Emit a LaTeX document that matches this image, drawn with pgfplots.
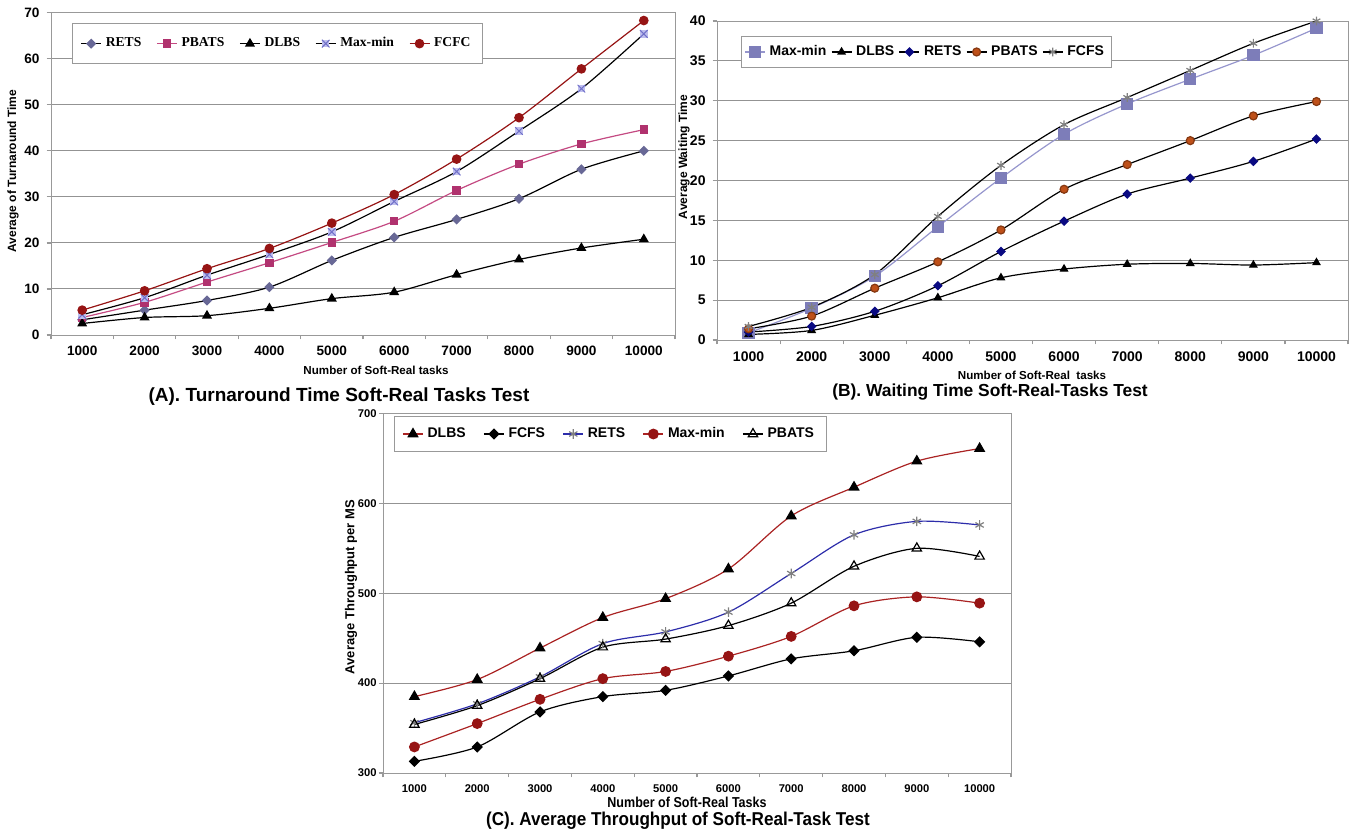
\documentclass[border=0pt]{standalone}
\usepackage{fontspec}
\setmainfont{Liberation Sans}
\newfontfamily\timesfont{Liberation Serif}
\usepackage{pgfplots}
\pgfplotsset{compat=1.18}
\usetikzlibrary{plotmarks}

\definecolor{slate}{RGB}{104,104,150}
\definecolor{pinkline}{RGB}{196,74,130}
\definecolor{pinkmark}{RGB}{176,50,110}
\definecolor{lav}{RGB}{190,190,238}
\definecolor{lavdark}{RGB}{112,112,200}
\definecolor{darkred}{RGB}{150,20,20}
\definecolor{lavline}{RGB}{150,150,205}
\definecolor{lavsq}{RGB}{125,125,185}
\definecolor{navy2}{RGB}{10,10,130}
\definecolor{rust}{RGB}{190,80,25}
\definecolor{redline}{RGB}{170,35,35}
\definecolor{blueline}{RGB}{45,45,170}

% square with an x through it (Max-min in panel A)
\pgfdeclareplotmark{boxx}{%
  \pgfpathrectangle{\pgfqpoint{-\pgfplotmarksize}{-\pgfplotmarksize}}%
    {\pgfqpoint{2\pgfplotmarksize}{2\pgfplotmarksize}}%
  \pgfusepathqfill
  \pgfpathmoveto{\pgfqpoint{-\pgfplotmarksize}{-\pgfplotmarksize}}%
  \pgfpathlineto{\pgfqpoint{\pgfplotmarksize}{\pgfplotmarksize}}%
  \pgfpathmoveto{\pgfqpoint{-\pgfplotmarksize}{\pgfplotmarksize}}%
  \pgfpathlineto{\pgfqpoint{\pgfplotmarksize}{-\pgfplotmarksize}}%
  \pgfusepathqstroke}

\pgfplotsset{
  panel/.style={
    scale only axis,
    xmin=0.5, xmax=10.5,
    xtick={0.5,1.5,...,10.5},
    x tick label as interval,
    xticklabels={1000,2000,3000,4000,5000,6000,7000,8000,9000,10000},
    axis line style={draw=gray!80},
    every tick/.style={draw=gray!80, line width=0.6pt},
    tick align=outside, tick pos=left,
    major tick length=2.2pt,
    ymajorgrids,
    grid style={draw=gray!85, line width=0.5pt},
    /pgf/number format/assume math mode=true,
    tick label style={font=\bfseries\fontsize{6.8}{7}\selectfont},
    every axis plot/.append style={smooth, line width=0.6pt},
    legend columns=5,
    legend image code/.code={%
      \draw[mark repeat=2,mark phase=2] plot coordinates {(0pt,0pt) (5pt,0pt) (10pt,0pt)};},
    legend cell align=left,
  },
}

\begin{document}
\begin{tikzpicture}
\path[use as bounding box] (0,0) rectangle (676pt,-417.5pt);

% ---------------- (A) turnaround time
\begin{axis}[panel,
  at={(25.5pt,-167.5pt)}, anchor=south west,
  width=312pt, height=161.15pt,
  ymin=0, ymax=70, ytick={0,10,...,70},
  legend style={at={(0.034,0.968)}, anchor=north west, draw=gray!80,
    font=\timesfont\bfseries\fontsize{6.8}{7}\selectfont,
    inner xsep=4pt, inner ysep=5pt,
    /tikz/every even column/.append style={column sep=5.5pt}},
]
\addplot[black, mark=square*, mark size=1.5pt, mark options={fill=slate, draw=slate, rotate=45}]
  coordinates {(1,3.3)(2,5.4)(3,7.5)(4,10.4)(5,16.2)(6,21.2)(7,25.1)(8,29.6)(9,36.0)(10,40.0)};
\addplot[pinkline, mark=square*, mark size=1.8pt, mark options={fill=pinkmark, draw=pinkmark}]
  coordinates {(1,3.8)(2,7.1)(3,11.5)(4,15.7)(5,20.1)(6,24.7)(7,31.4)(8,37.1)(9,41.5)(10,44.6)};
\addplot[black, mark=triangle*, mark size=2.3pt, mark options={fill=black}]
  coordinates {(1,2.5)(2,3.8)(3,4.2)(4,5.8)(5,7.9)(6,9.3)(7,13.1)(8,16.4)(9,18.9)(10,20.8)};
\addplot[black, mark=boxx, mark size=1.9pt, mark options={fill=lav, draw=lavdark, line width=0.5pt}]
  coordinates {(1,4.4)(2,8.1)(3,13.0)(4,17.5)(5,22.4)(6,29.0)(7,35.5)(8,44.3)(9,53.5)(10,65.4)};
\addplot[darkred, mark=*, mark size=2.1pt, mark options={fill=darkred, draw=darkred}]
  coordinates {(1,5.4)(2,9.6)(3,14.4)(4,18.8)(5,24.3)(6,30.5)(7,38.2)(8,47.2)(9,57.8)(10,68.3)};
\legend{RETS, PBATS, DLBS, Max-min, FCFC}
\end{axis}

% ---------------- (B) waiting time
\begin{axis}[panel,
  at={(358.5pt,-170pt)}, anchor=south west,
  width=315.5pt, height=159.5pt,
  ymin=0, ymax=40, ytick={0,5,...,40},
  tick label style={font=\bfseries\fontsize{7}{7}\selectfont},
  legend style={at={(0.038,0.953)}, anchor=north west, draw=gray!80,
    font=\bfseries\fontsize{7}{7}\selectfont,
    inner xsep=1.5pt, inner ysep=2.5pt,
    /tikz/every even column/.append style={column sep=0.3pt}},
]
\addplot[lavline, mark=square*, mark size=2.8pt, mark options={fill=lavsq, draw=lavsq}]
  coordinates {(1,0.9)(2,4.0)(3,8.0)(4,14.2)(5,20.3)(6,25.8)(7,29.6)(8,32.7)(9,35.7)(10,39.1)};
\addplot[black, mark=triangle*, mark size=2pt, mark options={fill=black}]
  coordinates {(1,0.7)(2,1.2)(3,3.1)(4,5.3)(5,7.8)(6,8.9)(7,9.5)(8,9.6)(9,9.4)(10,9.7)};
\addplot[black, mark=square*, mark size=1.4pt, mark options={fill=navy2, draw=navy2, rotate=45}]
  coordinates {(1,1.0)(2,1.7)(3,3.6)(4,6.8)(5,11.1)(6,14.9)(7,18.3)(8,20.3)(9,22.4)(10,25.2)};
\addplot[black, mark=*, mark size=2pt, mark options={fill=rust, draw=rust!70!black}]
  coordinates {(1,1.4)(2,3.0)(3,6.5)(4,9.8)(5,13.8)(6,18.9)(7,22.0)(8,25.0)(9,28.1)(10,29.9)};
\addplot[black, mark=asterisk, mark size=2.2pt, mark options={draw=gray}]
  coordinates {(1,1.7)(2,4.1)(3,8.2)(4,15.5)(5,21.9)(6,27.0)(7,30.4)(8,33.8)(9,37.2)(10,40.0)};
\legend{Max-min, DLBS, RETS, PBATS, FCFS}
\end{axis}

% ---------------- (C) throughput
\begin{axis}[panel,
  at={(191.5pt,-386.5pt)}, anchor=south west,
  width=314pt, height=179.75pt,
  ymin=300, ymax=700, ytick={300,400,...,700},
  tick label style={font=\bfseries\fontsize{5.6}{6}\selectfont},
  yticklabel style={xshift=2.5pt},
  legend style={at={(0.0175,0.993)}, anchor=north west, draw=gray!80,
    font=\bfseries\fontsize{7}{7}\selectfont,
    inner xsep=4pt, inner ysep=3.5pt,
    /tikz/every even column/.append style={column sep=6.8pt}},
]
\addplot[redline, mark=triangle*, mark size=2.7pt, mark options={fill=black, draw=black}]
  coordinates {(1,385)(2,404)(3,439)(4,473)(5,494)(6,527)(7,586)(8,618)(9,647)(10,661)};
\addplot[black, mark=square*, mark size=1.7pt, mark options={fill=black, rotate=45}]
  coordinates {(1,313)(2,329)(3,368)(4,385)(5,392)(6,408)(7,427)(8,436)(9,451)(10,446)};
\addplot[blueline, mark=asterisk, mark size=2.4pt, mark options={draw=gray}]
  coordinates {(1,356)(2,377)(3,407)(4,444)(5,457)(6,479)(7,522)(8,565)(9,580)(10,576)};
\addplot[redline, mark=*, mark size=2.4pt, mark options={fill=darkred, draw=darkred}]
  coordinates {(1,329)(2,355)(3,382)(4,405)(5,413)(6,430)(7,452)(8,486)(9,496)(10,489)};
\addplot[black, mark=triangle, mark size=2.7pt, mark options={fill=white, draw=black}]
  coordinates {(1,354)(2,375)(3,405)(4,440)(5,449)(6,464)(7,489)(8,530)(9,550)(10,541)};
\legend{DLBS, FCFS, RETS, Max-min, PBATS}
\end{axis}

% axis titles and captions
\begin{scope}[every node/.style={font=\bfseries}]
\node[rotate=90, font=\bfseries\fontsize{6}{6}\selectfont] at (6.5pt,-85.5pt) {Average of Turnaround Time};
\node[font=\bfseries\fontsize{5.8}{6}\selectfont] at (188pt,-185pt) {Number of Soft-Real tasks};
\node[font=\bfseries\fontsize{9.5}{10}\selectfont] at (169.5pt,-198.5pt) {(A). Turnaround Time Soft-Real Tasks Test};

\node[rotate=90, font=\bfseries\fontsize{6}{6}\selectfont] at (342pt,-78.5pt) {Average Waiting Time};
\node[font=\bfseries\fontsize{5.8}{6}\selectfont] at (516pt,-187.5pt) {Number of Soft-Real~ tasks};
\node[font=\bfseries\fontsize{8.7}{10}\selectfont] at (495pt,-196pt) {(B). Waiting Time Soft-Real-Tasks Test};

\node[rotate=90, font=\bfseries\fontsize{6.5}{6}\selectfont] at (175.5pt,-293.5pt) {Average Throughput per MS};
\node[xscale=0.87, font=\bfseries\fontsize{7.2}{7}\selectfont] at (343.5pt,-401pt) {Number of Soft-Real Tasks};
\node[xscale=0.92, font=\bfseries\fontsize{9.3}{10}\selectfont] at (339pt,-410.5pt) {(C). Average Throughput of Soft-Real-Task Test};
\end{scope}
\end{tikzpicture}
\end{document}
